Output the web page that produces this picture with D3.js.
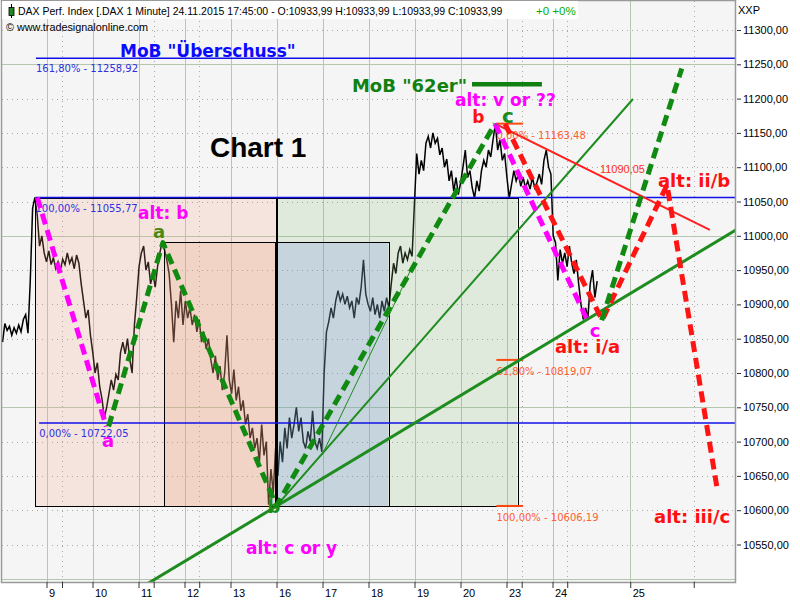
<!DOCTYPE html>
<html><head><meta charset="utf-8">
<script src="https://cdn.jsdelivr.net/npm/d3@7"></script>
<style>body{margin:0;background:#fff}svg{display:block}</style>
</head><body><svg id="c" width="800" height="600"></svg>
<script>
// ---------------- DATA ----------------
const yTicks = [10550,10600,10650,10700,10750,10800,10850,10900,10950,11000,11050,11100,11150,11200,11250,11300];
const yMajorGrid = [10500,10750,11000,11250];
const dayTicks = [0,1,2,3,4,5,6,7,8,9,10,11,12.69];
const dayLabels = ["9","10","11","12","13","16","17","18","19","20","23","24","25"];
const minorTicks = [0.337,2.33,3.32,10.33,11.32,14.07];

// 1-minute DAX series sampled (session-day units)
const priceT0 = -0.956, priceDt = 0.0503;
const pricePre = [10845,10872,10862,10868,10855,10866,10858,10870,10860,10878,10885,10858,10935,11040,11056,11030,10985,11000,10975];
const price09 = [10962,10978,10958,10968,10952,10962,10950,10966,10958,10975,10960,10968,10952,10972,10960,10930,10905,10880,10892,10855];
const price10 = [10830,10800,10815,10780,10762,10735,10750,10770,10790,10775,10798,10790,10830,10845,10828,10850,10820,10800,10870,10910];
const price11 = [10955,10975,10985,10950,10962,10930,10945,10925,10955,10975,10992,10980,10965,10945,10900,10845,10905,10880,10920,10870];
const price12 = [10905,10880,10895,10870,10885,10860,10878,10845,10860,10835,10850,10820,10800,10825,10790,10810,10775,10800,10855,10790];
const price13 = [10770,10805,10760,10780,10745,10760,10725,10740,10705,10720,10690,10705,10670,10725,10680,10700,10608,10660,10625,10690];
const price16 = [10650,10700,10670,10720,10690,10735,10705,10725,10750,10715,10735,10700,10690,10715,10700,10745,10700,10690,10705,10685];
const price17 = [10800,10860,10875,10895,10880,10905,10920,10905,10915,10900,10912,10895,10905,10880,10910,10900,10925,10965,10915,10900];
const price18 = [10890,10910,10885,10900,10880,10905,10890,10910,10895,10930,10960,10945,10975,10985,10960,10975,10965,10980,10970,11045];
const price19 = [11120,11090,11110,11095,11135,11145,11128,11150,11135,11142,11118,11128,11100,11112,11080,11095,11065,11085,11060,11078];
const price20 = [11100,11125,11085,11095,11070,11055,11080,11065,11095,11110,11100,11125,11115,11140,11163,11125,11140,11110,11120,11085];
const price23 = [11055,11075,11095,11080,11090,11072,11085,11070,11080,11068,11085,11070,11078,11090,11075,11110,11125,11100,11090,11000];
const price24 = [10990,10935,10980,10960,10975,10955,10985,10960,10945,10965,10930,10900,10878,10895,10880,10930,10950,10910,10934];
const price = [].concat(pricePre,price09,price10,price11,price12,price13,price16,price17,price18,price19,price20,price23,price24);

// Fibonacci time/price boxes [t0, t1, pLow, pHigh]
const fibBoxes = [[-0.24,5.0,10606.19,11055.77],[2.56,5.0,10606.19,10991],[5.0,10.23,10606.19,11055.77],[5.0,7.43,10606.19,10991]];
// blue fib levels
const blueLevels = [11258.92,11055.77,10727];
const blueLevelStart = [-0.23,-0.24,-0.16];
const blueLevelText = ["161,80% - 11258,92","100,00% - 11055,77","0,00% - 10722,05"];
// orange fib levels
const orangeLevels = [11163.48,10819.07,10606.19];
const orangeSpan = [9.78,10.36];
const orangeLevelText = ["0,00% - 11163,48","61,80% - 10819,07","100,00% - 10606,19"];

// trend lines [t, price]
const greenThick = [[2.0,10485],[15.0,11009]];
const greenMedium = [[5.0,10606.19],[12.75,11199.4]];
const greenThin = [[5.99,10680.5],[8.0,10961.8]];
const greenDashA = [[1.35,10722],[2.53,10990],[5.0,10606.19],[9.75,11163.48]];
const greenDashB = [[12.07,10877],[13.81,11244]];
const magentaDashA = [[-0.2,11055.77],[1.3,10722]];
const magentaDashB = [[9.75,11163.48],[11.75,10878]];
const redDash = [[9.97,11163],[12.08,10877],[13.49,11074],[14.59,10627]];
const redLine = [[9.75,11163.48],[14.42,11008.5]];
const mob62Line = [[9.25,11221],[10.77,11221]];
const redLineValue = [12.03,11090.05,"11090,05"];

// annotation labels [t, price, text]
const labels = [
 [1.598,11260.6,'MoB "Überschuss"'],
 [6.64,11209.6,'MoB "62er"'],
 [8.88,11189.5,'alt: v or ??'],
 [9.39,11164,'b'],
 [10.03,11164,'c'],
 [3.554,11114.9,'Chart 1'],
 [1.989,11024.5,'alt: b'],
 [2.446,10996.8,'a'],
 [1.337,10692,'a'],
 [4.946,10595.9,'b'],
 [4.337,10536.2,'alt: c or y'],
 [11.924,10852.5,'c'],
 [11.054,10829.2,'alt: i/a'],
 [13.293,11071.1,'alt: ii/b'],
 [13.207,10581.3,'alt: iii/c']
];

// ---------------- DRAW ----------------
const svg = d3.select('#c');
const X0=2, X1=735, Y0=1, Y1=582;
const x = d3.scaleLinear().domain([-1,15]).range([0.5,736.5]);
const y = d3.scaleLinear().domain([10550,11300]).range([544.5,30]);
const line = d3.line().x(d=>x(d[0])).y(d=>y(d[1]));

svg.append('rect').attr('width',800).attr('height',600).attr('fill','#fff');
svg.append('rect').attr('x',X0).attr('y',Y0).attr('width',X1-X0).attr('height',Y1-Y0).attr('fill','#f5f5f5');
svg.append('clipPath').attr('id','clip').append('rect').attr('x',X0).attr('y',Y0).attr('width',X1-X0).attr('height',Y1-Y0);
const g = svg.append('g').attr('clip-path','url(#clip)');

// grid
const dotted = yTicks.filter(v=>!yMajorGrid.includes(v));
g.selectAll('.hd').data(dotted).enter().append('line')
 .attr('x1',X0).attr('x2',X1).attr('y1',d=>Math.round(y(d))+0.5).attr('y2',d=>Math.round(y(d))+0.5)
 .attr('stroke','#a8a8a8').attr('stroke-dasharray','1,4');
g.selectAll('.hm').data(yMajorGrid).enter().append('line')
 .attr('x1',X0).attr('x2',X1).attr('y1',d=>Math.round(y(d))+0.5).attr('y2',d=>Math.round(y(d))+0.5)
 .attr('stroke','#b5c8ae');
g.selectAll('.vd').data(minorTicks).enter().append('line')
 .attr('y1',Y0).attr('y2',Y1).attr('x1',d=>Math.round(x(d))+0.5).attr('x2',d=>Math.round(x(d))+0.5)
 .attr('stroke','#a8a8a8').attr('stroke-dasharray','1,4');
g.selectAll('.vm').data(dayTicks).enter().append('line')
 .attr('y1',Y0).attr('y2',Y1).attr('x1',d=>Math.round(x(d))+0.5).attr('x2',d=>Math.round(x(d))+0.5)
 .attr('stroke','#b5c8ae');

// price
g.append('path').datum(price.map((p,i)=>[priceT0+i*priceDt,p]))
 .attr('d',line).attr('fill','none').attr('stroke','#000').attr('stroke-width',1.5).attr('stroke-linejoin','miter');

// boxes (translucent)
const boxFill = ['rgba(240,160,125,0.2)','rgba(234,148,116,0.2)','rgba(135,185,120,0.2)','rgba(98,128,230,0.2)'];
g.selectAll('.box').data(fibBoxes).enter().append('rect')
 .attr('x',d=>x(d[0])).attr('width',d=>x(d[1])-x(d[0]))
 .attr('y',d=>y(d[3])).attr('height',d=>y(d[2])-y(d[3]))
 .attr('fill',(d,i)=>boxFill[i]);
g.selectAll('.boxb').data(fibBoxes).enter().append('rect')
 .attr('x',d=>Math.round(x(d[0]))+0.5).attr('width',d=>Math.round(x(d[1])-x(d[0])))
 .attr('y',d=>Math.round(y(d[3]))+0.5).attr('height',d=>Math.round(y(d[2])-y(d[3])))
 .attr('fill','none').attr('stroke','#000').attr('stroke-width',1);
g.append('line').attr('x1',x(5.0)).attr('x2',x(5.0)).attr('y1',y(10991)).attr('y2',y(10606.19))
 .attr('stroke','#000').attr('stroke-width',3);

// blue fib levels
g.selectAll('.bl').data(blueLevels).enter().append('line')
 .attr('x1',(d,i)=>x(blueLevelStart[i])).attr('x2',X1).attr('y1',d=>y(d)).attr('y2',d=>y(d))
 .attr('stroke','#1010e8').attr('stroke-width',1.5);
g.selectAll('.blt').data(blueLevels).enter().append('text')
 .attr('x',(d,i)=>x(blueLevelStart[i])).attr('y',d=>y(d)+14)
 .attr('font-family','DejaVu Sans').attr('font-size',10).attr('fill','#3030e0')
 .text((d,i)=>blueLevelText[i]);

// orange fib
g.selectAll('.ol').data(orangeLevels).enter().append('line')
 .attr('x1',x(orangeSpan[0])).attr('x2',x(orangeSpan[1])).attr('y1',d=>y(d)).attr('y2',d=>y(d))
 .attr('stroke','#ff4a10').attr('stroke-width',2);
g.selectAll('.olt').data(orangeLevels).enter().append('text')
 .attr('x',x(orangeSpan[0])).attr('y',d=>y(d)+15)
 .attr('font-family','DejaVu Sans').attr('font-size',10).attr('fill','#ff6030')
 .text((d,i)=>orangeLevelText[i]);

// solid trend lines
const solid = (pts,col,w)=>g.append('path').datum(pts).attr('d',line).attr('fill','none').attr('stroke',col).attr('stroke-width',w);
solid(greenThick,'#1e8c1e',3);
solid(greenMedium,'#1e8c1e',2);
solid(greenThin,'#1e8c1e',1);
solid(redLine,'#ff2020',2);
solid(mob62Line,'#108010',4.5);
g.append('text').attr('x',x(redLineValue[0])).attr('y',y(redLineValue[1])-1)
 .attr('font-family','Liberation Sans').attr('font-size',11).attr('fill','#ff3020').text(redLineValue[2]);

// dashed wave paths
const dashed = (pts,col)=>g.append('path').datum(pts).attr('d',line).attr('fill','none').attr('stroke',col)
 .attr('stroke-width',5).attr('stroke-dasharray','11,6').attr('stroke-linejoin','round');
dashed(magentaDashA,'#ff00ff');
dashed(magentaDashB,'#ff00ff');
dashed(redDash,'#ff1414');
dashed(greenDashA,'#108a10');
dashed(greenDashB,'#108a10');

// labels
const labelStyle = [
 ['#0a0aff',17,'start'],['#108010',18,'start'],['#ff00ff',17,'start'],['#ff1010',17,'middle'],['#1a8a1a',20,'middle'],
 ['#000000',28,'start'],['#ff00ff',17,'start'],['#4a8a14',18,'middle'],['#ff00ff',18,'middle'],['#1a8a1a',18,'middle'],
 ['#ff00ff',17,'start'],['#ff00ff',18,'middle'],['#ff1010',18,'start'],['#ff1010',18,'start'],['#ff1010',18,'start']
];
svg.selectAll('.lab').data(labels).enter().append('text')
 .attr('x',d=>x(d[0])).attr('y',d=>y(d[1]))
 .attr('font-family',(d,i)=>i===5?'Liberation Sans':'DejaVu Sans').attr('font-weight','bold')
 .attr('font-size',(d,i)=>labelStyle[i][1]).attr('fill',(d,i)=>labelStyle[i][0])
 .attr('text-anchor',(d,i)=>labelStyle[i][2]).text(d=>d[2]);

// borders
svg.append('rect').attr('x',X0-0.5).attr('y',Y0-0.5).attr('width',X1-X0+1).attr('height',Y1-Y0+1)
 .attr('fill','none').attr('stroke','#9a9a9a').attr('stroke-width',1.5);

// y axis
const yAxis = d3.axisRight(y).tickValues(yTicks).tickSize(4).tickPadding(2)
 .tickFormat(d=>d.toFixed(2).replace('.',','));
const ya = svg.append('g').attr('transform','translate(737,0)').call(yAxis);
ya.select('.domain').remove();
ya.selectAll('text').attr('font-family','Liberation Sans').attr('font-size',11).attr('fill','#000');
ya.selectAll('line').attr('stroke','#333');
svg.append('text').attr('x',738).attr('y',14).attr('font-family','Liberation Sans').attr('font-size',11).text('XXP');

// x axis
const allTicks = dayTicks.concat(minorTicks);
const xAxis = d3.axisBottom(x).tickValues(allTicks).tickSize(6).tickPadding(1)
 .tickFormat((d,i)=> i<dayLabels.length ? dayLabels[i] : '');
const xa = svg.append('g').attr('transform','translate(0,'+Y1+')').call(xAxis);
xa.select('.domain').remove();
xa.selectAll('text').attr('font-family','Liberation Sans').attr('font-size',11).attr('fill','#000')
 .attr('text-anchor','start').attr('x',2);
xa.selectAll('line').attr('stroke','#333');

// header
svg.append('rect').attr('x',2).attr('y',1).attr('width',576).attr('height',18).attr('fill','#fff');
svg.append('line').attr('x1',11.5).attr('x2',11.5).attr('y1',4).attr('y2',18).attr('stroke','#000');
svg.append('rect').attr('x',9).attr('y',7.5).attr('width',5).attr('height',8).attr('fill','#1a8a1a').attr('stroke','#000').attr('stroke-width',0.8);
svg.append('text').attr('x',18).attr('y',15).attr('font-family','Liberation Sans').attr('font-size',10.5).attr('fill','#000')
 .text('DAX Perf. Index [.DAX  1 Minute] 24.11.2015 17:45:00 - O:10933,99 H:10933,99 L:10933,99 C:10933,99');
svg.append('text').attr('x',536).attr('y',15).attr('font-family','Liberation Sans').attr('font-size',11.5).attr('fill','#00b000').text('+0 +0%');
svg.append('text').attr('x',6).attr('y',31).attr('font-family','Liberation Sans').attr('font-size',11)
 .attr('textLength',142).attr('lengthAdjust','spacingAndGlyphs').text('© www.tradesignalonline.com');
</script></body></html>
